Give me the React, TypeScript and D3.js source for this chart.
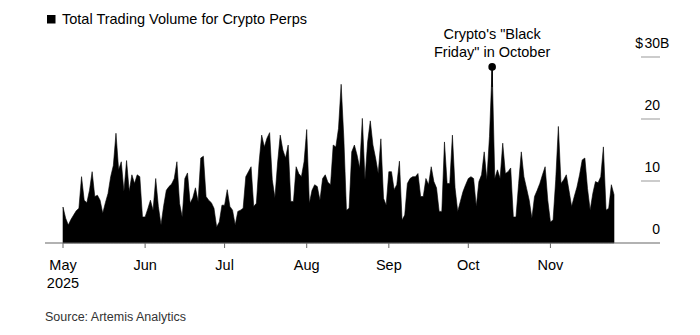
import React from "react";
import * as d3 from "d3";

const START_DATE = "2025-05-01";
const volumes: number[] = [
  5.8, 4.0, 2.9, 3.8, 4.5, 5.2, 5.6, 10.7, 6.9, 6.5,
  8.5, 11.5, 7.5, 7.7, 6.9, 4.8, 6.5, 8.0, 10.7, 12.5,
  17.7, 11.8, 13.1, 8.3, 13.3, 8.3, 11.0, 9.6, 11.0, 10.7,
  4.2, 4.2, 5.5, 6.9, 5.3, 10.4, 5.9, 2.9, 6.0, 8.5,
  9.1, 9.5, 10.4, 13.1, 6.4, 4.2, 10.4, 11.3, 6.4, 7.3,
  8.9, 6.7, 13.7, 14.0, 7.5, 6.9, 6.5, 5.6, 2.6, 3.4,
  6.1, 6.1, 8.6, 5.9, 5.3, 2.9, 5.1, 5.3, 5.6, 10.7,
  11.5, 12.3, 5.9, 6.4, 12.9, 17.4, 15.5, 16.9, 17.8, 10.2,
  7.3, 12.9, 17.4, 15.0, 13.7, 15.8, 6.7, 6.7, 12.3, 11.2,
  10.7, 13.1, 18.3, 6.4, 8.5, 9.4, 9.1, 6.9, 10.4, 11.0,
  9.8, 9.4, 15.8, 15.5, 18.5, 25.6, 17.0, 5.3, 5.6, 14.7,
  15.8, 14.2, 12.1, 20.1, 10.2, 16.3, 19.7, 15.8, 13.7, 11.2,
  16.8, 7.2, 6.1, 11.5, 11.5, 8.6, 9.4, 13.2, 3.7, 4.5,
  9.6, 10.4, 10.7, 10.7, 11.2, 7.5, 7.5, 10.4, 9.4, 12.3,
  9.9, 8.9, 5.1, 5.1, 16.3, 9.6, 9.6, 17.4, 8.9, 5.1,
  6.7, 8.3, 9.4, 10.4, 10.7, 10.4, 5.9, 9.9, 11.0, 14.7,
  10.2, 17.2, 28.4, 10.4, 11.8, 10.4, 16.1, 11.2, 11.5, 12.1,
  4.2, 4.2, 9.6, 14.7, 10.7, 8.8, 6.9, 4.0, 7.5, 8.5,
  9.6, 11.0, 12.3, 6.9, 3.4, 3.7, 10.2, 18.8, 9.6, 10.2,
  11.0, 8.5, 5.9, 7.5, 9.0, 11.0, 13.4, 13.7, 8.8, 5.3,
  8.0, 9.9, 9.7, 10.7, 15.5, 5.3, 5.6, 9.4, 7.8,
];
const yTicks = [0, 10, 20, 30];
const monthTicks = ["2025-05-01", "2025-06-01", "2025-07-01", "2025-08-01", "2025-09-01", "2025-10-01", "2025-11-01"];
const monthLabels = ["May", "Jun", "Jul", "Aug", "Sep", "Oct", "Nov"];
const legendLabel = "Total Trading Volume for Crypto Perps";
const annotationLines = ["Crypto's \"Black", "Friday\" in October"];
const annotationDate = "2025-10-10";
const sourceText = "Source: Artemis Analytics";

const W = 700;
const H = 335;
const FONT = "'Liberation Sans', Arial, Helvetica, sans-serif";

export default function App() {
  const parse = d3.utcParse("%Y-%m-%d");
  const start = parse(START_DATE) as Date;
  const data = volumes.map((v, i) => ({ date: d3.utcDay.offset(start, i), v }));
  const end = data[data.length - 1].date;

  const x = d3.scaleUtc().domain([start, end]).range([63, 614]);
  const y = d3.scaleLinear().domain([0, 30]).range([243, 57]);

  const area = d3
    .area<{ date: Date; v: number }>()
    .x((d) => x(d.date))
    .y0(y(0))
    .y1((d) => y(d.v));

  const annDate = parse(annotationDate) as Date;
  const annPoint = data.find((d) => +d.date === +annDate)!;
  const ax = x(annPoint.date);
  const ay = y(annPoint.v);

  return (
    <svg
      width={W}
      height={H}
      style={{ position: "absolute", left: 0, top: 0, background: "#fff" }}
      fontFamily={FONT}
    >
      {/* legend */}
      <rect x={47} y={15} width={8.5} height={8.5} fill="#000" />
      <text x={62} y={24} fontSize={14.5} fill="#000">
        {legendLabel}
      </text>

      {/* gridlines (right side stubs) */}
      {yTicks.filter((t) => t > 0).map((t) => (
        <line key={t} x1={641} x2={660} y1={y(t)} y2={y(t)} stroke="#999" strokeWidth={1} />
      ))}

      {/* area */}
      <path d={area(data) || ""} fill="#000" stroke="#000" strokeWidth={0.6} strokeLinejoin="round" />

      {/* baseline */}
      <line x1={45} x2={660} y1={y(0)} y2={y(0)} stroke="#666" strokeWidth={1.2} />

      {/* month ticks */}
      {monthTicks.map((m, i) => {
        const d = parse(m) as Date;
        const mx = x(d);
        return (
          <g key={m}>
            <line x1={mx} x2={mx} y1={y(0)} y2={y(0) + 5} stroke="#666" strokeWidth={1} />
            <text x={mx} y={270} textAnchor="middle" fontSize={14.5} fill="#000">
              {monthLabels[i]}
            </text>
            {i === 0 && (
              <text x={mx} y={288} textAnchor="middle" fontSize={14.5} fill="#000">
                2025
              </text>
            )}
          </g>
        );
      })}

      {/* y labels */}
      {yTicks.map((t) => {
        const ty = y(t) - 9;
        if (t === 30) {
          return (
            <g key={t}>
              <text x={643} y={ty} textAnchor="end" fontSize={14} fill="#000">$</text>
              <text x={660} y={ty} textAnchor="end" fontSize={14} fill="#000">{t}</text>
              <text x={660} y={ty} textAnchor="start" fontSize={14} fill="#000">B</text>
            </g>
          );
        }
        return (
          <text key={t} x={660} y={ty} textAnchor="end" fontSize={14} fill="#000">
            {t}
          </text>
        );
      })}

      {/* annotation */}
      <line x1={ax} x2={ax} y1={ay} y2={ay + 20} stroke="#000" strokeWidth={1.5} />
      <circle cx={ax} cy={ay} r={3.8} fill="#000" />
      {annotationLines.map((l, i) => (
        <text key={i} x={ax} y={39 + i * 18} textAnchor="middle" fontSize={14.5} fill="#000">
          {l}
        </text>
      ))}

      {/* source */}
      <text x={45} y={321} fontSize={12.5} fill="#333">
        {sourceText}
      </text>
    </svg>
  );
}
